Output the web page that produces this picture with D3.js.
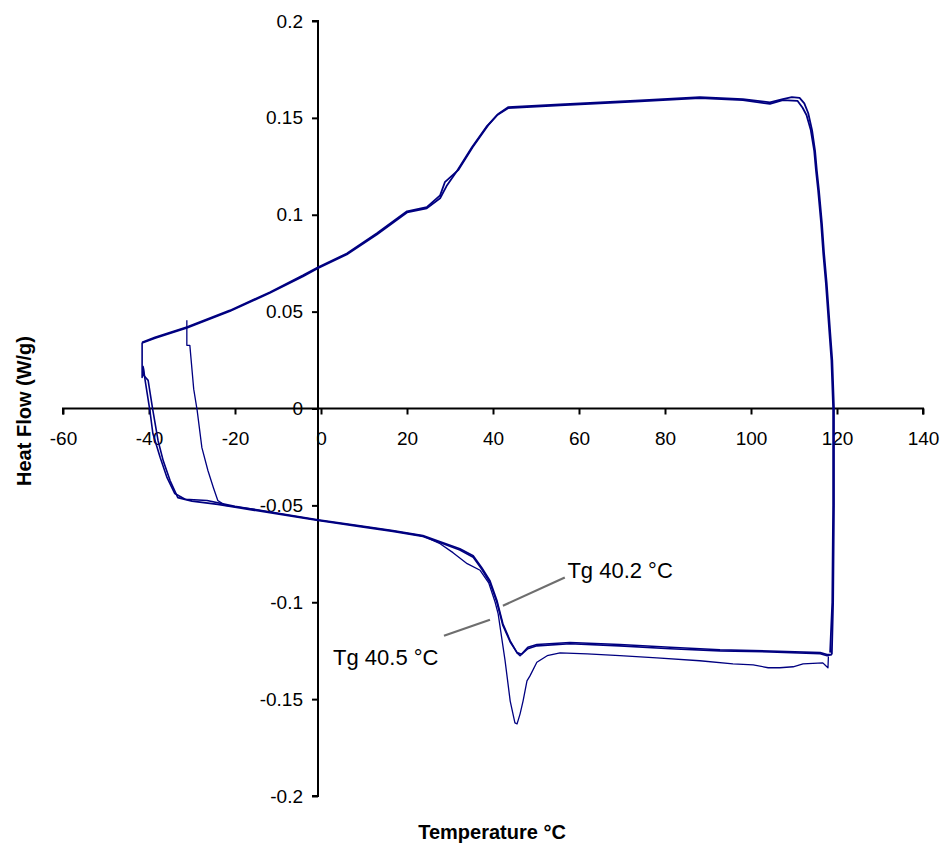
<!DOCTYPE html>
<html>
<head>
<meta charset="utf-8">
<script src="https://cdn.jsdelivr.net/npm/d3@7"></script>
<style>
  html, body { margin: 0; padding: 0; background: #fff; }
  svg { display: block; }
  text { font-family: "Liberation Sans", Arial, sans-serif; }
</style>
</head>
<body>
<svg id="chart" width="944" height="846"></svg>
<script>
// DSC heat-flow cycles: Temperature (°C) vs Heat Flow (W/g)

// Axis ticks
const xTicks = [-60, -40, -20, 0, 20, 40, 60, 80, 100, 120, 140];
const yTicks = [-0.2, -0.15, -0.1, -0.05, 0, 0.05, 0.1, 0.15, 0.2];

// First heating scan, started from -30 °C (large relaxation peak)
const heating1 = [
  [-31.2, 0.0455], [-31.2, 0.0326], [-30.5, 0.0326], [-29.6, 0.010], [-28.8, -0.001],
  [-27.7, -0.0202], [-26.3, -0.032], [-25.0, -0.041], [-24.0, -0.0475], [-22.3, -0.050],
  [-16.5, -0.0517], [-0.7, -0.0576], [9.1, -0.0607], [16.7, -0.0632], [23.7, -0.0658],
  [27.7, -0.0698], [30.7, -0.0744], [34.0, -0.0801], [37.0, -0.0835], [39.0, -0.090],
  [40.5, -0.100], [41.2, -0.106], [42.8, -0.130], [44.0, -0.151], [45.1, -0.1623],
  [45.6, -0.1628], [46.3, -0.1576], [47.0, -0.1509], [47.9, -0.1406], [48.6, -0.138],
  [50.2, -0.131], [52.6, -0.1276], [55.6, -0.1261], [61.9, -0.1266], [69.5, -0.1276],
  [78.1, -0.1287], [88.1, -0.1302], [95.8, -0.1318], [100.5, -0.1323], [104.0, -0.1338],
  [106.7, -0.1338], [109.8, -0.1333], [112.1, -0.1318], [116.7, -0.1313], [117.4, -0.1328],
  [117.9, -0.1338], [118.0, -0.128]
];

// Second heating scan, from -42 °C
const heating2 = [
  [-41.6, 0.0341], [-41.6, 0.016], [-41.3, 0.021], [-40.9, 0.0145], [-39.8, -0.001],
  [-39.1, -0.0129], [-37.4, -0.0253], [-35.8, -0.0357], [-34.0, -0.0439], [-31.6, -0.0468],
  [-26.5, -0.0475], [-20.0, -0.0505], [-16.5, -0.0517], [-0.7, -0.0574], [9.1, -0.0605],
  [16.7, -0.063], [23.7, -0.0656], [28.4, -0.0693], [32.3, -0.0724], [35.4, -0.076],
  [37.4, -0.0822], [39.3, -0.0889], [40.9, -0.099], [42.3, -0.1111], [44.0, -0.1199],
  [45.6, -0.1261], [46.3, -0.1276], [48.1, -0.124], [50.2, -0.1225], [57.9, -0.1214],
  [69.5, -0.1225], [81.2, -0.124], [92.8, -0.1251], [104.4, -0.1256], [116.1, -0.1266],
  [117.7, -0.1276], [118.8, -0.127]
];

// Third heating scan, from -42 °C
const heating3 = [
  [-41.4, 0.022], [-41.2, 0.017], [-40.2, 0.0145], [-39.1, -0.001], [-37.9, -0.0165],
  [-36.7, -0.0269], [-35.1, -0.0372], [-33.3, -0.046], [-30.0, -0.0478], [-24.0, -0.0495],
  [-16.5, -0.0522], [-0.7, -0.0578], [9.1, -0.061], [16.7, -0.0635], [23.7, -0.066],
  [28.4, -0.0698], [32.3, -0.073], [35.4, -0.0768], [37.4, -0.083], [39.3, -0.090],
  [40.9, -0.100], [42.3, -0.112], [44.0, -0.1205], [45.6, -0.126], [46.6, -0.1268],
  [48.1, -0.1232], [50.2, -0.1218], [57.9, -0.1208], [69.5, -0.1218], [81.2, -0.1232],
  [92.8, -0.1245], [104.4, -0.1252], [116.1, -0.126], [117.7, -0.127], [118.8, -0.127]
];

// Cooling scans, 120 °C down to -42 °C
const cooling1 = [
  [118.8, -0.127], [119.1, -0.100], [119.3, -0.050], [119.3, 0.000], [118.9, 0.025],
  [118.4, 0.040], [117.6, 0.065], [117.0, 0.080], [116.5, 0.0956], [115.8, 0.1127],
  [115.3, 0.123], [114.9, 0.133], [114.2, 0.1437], [113.3, 0.1525], [112.4, 0.1575],
  [111.3, 0.1603], [109.5, 0.1607], [107.4, 0.1597], [104.4, 0.158], [98.1, 0.1597],
  [88.1, 0.1607], [74.2, 0.159], [55.6, 0.157], [43.5, 0.1555], [41.2, 0.152],
  [38.8, 0.146], [35.3, 0.135], [31.9, 0.123], [28.8, 0.1168], [27.7, 0.110],
  [24.6, 0.1039], [20.0, 0.1018], [13.0, 0.0904], [6.0, 0.080], [-0.7, 0.0729],
  [-4.2, 0.0687], [-11.9, 0.060], [-21.2, 0.0506], [-31.2, 0.042], [-38.6, 0.0367],
  [-41.6, 0.0341]
];

const cooling2 = [
  [118.4, -0.126], [118.9, -0.100], [119.1, -0.050], [119.1, 0.000], [118.7, 0.025],
  [118.2, 0.040], [117.4, 0.065], [116.8, 0.080], [116.3, 0.0956], [115.6, 0.1127],
  [115.1, 0.123], [114.7, 0.133], [113.9, 0.1437], [112.9, 0.1515], [112.0, 0.1552],
  [110.8, 0.1588], [107.4, 0.1592], [104.4, 0.1572], [98.1, 0.1592], [88.1, 0.1602],
  [74.2, 0.1585], [55.6, 0.1565], [43.5, 0.155], [41.0, 0.1515], [38.6, 0.1458],
  [35.1, 0.1348], [31.7, 0.1228], [29.2, 0.1148], [27.7, 0.1085], [24.6, 0.1033],
  [20.0, 0.1012], [13.0, 0.0898], [6.0, 0.0795], [-0.7, 0.0724], [-4.2, 0.0682],
  [-11.9, 0.0596], [-21.2, 0.0502], [-31.2, 0.0416], [-38.6, 0.0363], [-41.6, 0.0338]
];

// Glass transition callouts: label, label anchor and leader ends (°C, W/g)
const tgLabels = ["Tg 40.2 °C", "Tg 40.5 °C"];
const tgLabelAt = [[57.3, -0.0876], [2.8, -0.1322]];
const tgLeaderFrom = [[56.7, -0.0872], [28.6, -0.1173]];
const tgLeaderTo = [[42.3, -0.1018], [39.3, -0.1090]];

const svg = d3.select("#chart");

const x = d3.scaleLinear().domain([-60, 140]).range([63, 923]);
const y = d3.scaleLinear().domain([-0.2, 0.2]).range([796, 21]);

// X axis through y = 0
const xAxis = svg.append("g")
  .attr("transform", `translate(0,${y(0)})`)
  .call(d3.axisBottom(x).tickValues(xTicks).tickSize(6).tickPadding(17)
    .tickFormat(d => String(d)));

// Y axis through x = 0
const yAxis = svg.append("g")
  .attr("transform", `translate(${x(0) - 3},0)`)
  .call(d3.axisLeft(y).tickValues(yTicks).tickSize(6).tickPadding(9)
    .tickFormat(d => String(d)));

[xAxis, yAxis].forEach(g => {
  g.select(".domain").attr("stroke", "#000").attr("stroke-width", 2);
  g.selectAll(".tick line").attr("stroke", "#000").attr("stroke-width", 2);
  g.selectAll(".tick text").attr("fill", "#000")
    .style("font-size", "19px")
    .style("font-family", "'Liberation Sans', Arial, sans-serif");
});
// keep the domain ends square, without outer ticks
xAxis.select(".domain").attr("d", `M${x(-60)},6V0H${x(140)}V6`);
yAxis.select(".domain").attr("d", `M-6,${y(0.2)}H0V${y(-0.2)}H-6`);

// Axis titles
svg.append("text")
  .attr("x", 492).attr("y", 839)
  .attr("text-anchor", "middle")
  .style("font-size", "20px").style("font-weight", "bold")
  .text("Temperature °C");

svg.append("text")
  .attr("transform", "translate(31,411) rotate(-90)")
  .attr("text-anchor", "middle")
  .style("font-size", "20px").style("font-weight", "bold")
  .text("Heat Flow (W/g)");

// Curves
const line = d3.line().x(d => x(d[0])).y(d => y(d[1]));
const curves = [
  { data: cooling1, w: 1.8 },
  { data: cooling2, w: 1.8 },
  { data: heating3, w: 1.6 },
  { data: heating2, w: 1.6 },
  { data: heating1, w: 1.3 }
];
svg.append("g").selectAll("path")
  .data(curves)
  .join("path")
  .attr("d", d => line(d.data))
  .attr("fill", "none")
  .attr("stroke", "#000080")
  .attr("stroke-width", d => d.w)
  .attr("stroke-linejoin", "round");

// Tg callouts
const notes = svg.append("g");
tgLabels.forEach((t, i) => {
  notes.append("line")
    .attr("x1", x(tgLeaderFrom[i][0])).attr("y1", y(tgLeaderFrom[i][1]))
    .attr("x2", x(tgLeaderTo[i][0])).attr("y2", y(tgLeaderTo[i][1]))
    .attr("stroke", "#6e6e6e").attr("stroke-width", 2.2);
  notes.append("text")
    .attr("x", x(tgLabelAt[i][0])).attr("y", y(tgLabelAt[i][1]))
    .style("font-size", "22px")
    .attr("fill", "#000")
    .text(t);
});
</script>
</body>
</html>
